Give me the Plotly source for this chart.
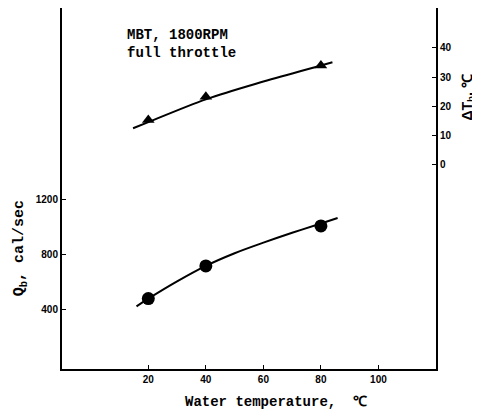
import plotly.graph_objects as go

# Measured data points
water_temp = [20, 40, 80]
qb_values = [478, 716, 1007]        # Qb, cal/sec (left axis)
dtb_values = [15.3, 23.3, 34.0]     # dTb, C (right axis)

# Fitted curves
qb_curve_x = [15.9, 20, 30, 40, 50, 60, 70, 80, 85.8]
qb_curve_y = [421, 477, 603, 716, 808, 885, 957, 1025, 1065]
dtb_curve_x = [14.7, 20, 40, 60, 80, 84]
dtb_curve_y = [12.5, 14.6, 22.4, 28.5, 34.0, 35.1]

x_ticks = [20, 40, 60, 80, 100]
left_ticks = [400, 800, 1200]
right_ticks = [0, 10, 20, 30, 40]

fig = go.Figure()
fig.add_trace(go.Scatter(x=qb_curve_x, y=qb_curve_y, mode="lines",
                         line=dict(color="black", width=2, shape="spline"),
                         showlegend=False, hoverinfo="skip"))
fig.add_trace(go.Scatter(x=water_temp, y=qb_values, mode="markers",
                         marker=dict(symbol="circle", size=13, color="black"),
                         showlegend=False))
fig.add_trace(go.Scatter(x=dtb_curve_x, y=dtb_curve_y, mode="lines",
                         line=dict(color="black", width=2, shape="spline"),
                         yaxis="y2", showlegend=False, hoverinfo="skip"))
fig.add_trace(go.Scatter(x=water_temp, y=dtb_values, mode="markers",
                         marker=dict(symbol="triangle-up", size=11, color="black"),
                         yaxis="y2", showlegend=False))

tickfont = dict(family="Liberation Sans", size=10, color="black", weight="bold")
mono = dict(family="Liberation Mono", size=14, color="black", weight="bold")

fig.update_layout(
    width=480, height=416,
    margin=dict(l=54, r=52, t=0, b=55),
    paper_bgcolor="white", plot_bgcolor="white",
    xaxis=dict(range=[-10, 120], tickvals=x_ticks, ticks="inside", ticklen=4,
               tickcolor="black", showline=True, linecolor="black", linewidth=2,
               showgrid=False, zeroline=False, tickfont=tickfont),
    yaxis=dict(range=[-35, 2594], tickvals=left_ticks, ticks="inside", ticklen=4,
               tickcolor="black", showline=True, linecolor="black", linewidth=2,
               showgrid=False, zeroline=False, tickfont=tickfont),
    yaxis2=dict(range=[-70, 53.7], tickvals=right_ticks, ticks="inside", ticklen=4,
                tickcolor="black", showline=True, linecolor="black", linewidth=2,
                showgrid=False, zeroline=False, tickfont=tickfont,
                overlaying="y", side="right"),
    annotations=[
        dict(text="MBT, 1800RPM", x=0.168, y=0.926, xref="paper", yref="paper",
             xanchor="left", yanchor="middle", showarrow=False, font=mono),
        dict(text="full throttle", x=0.168, y=0.876, xref="paper", yref="paper",
             xanchor="left", yanchor="middle", showarrow=False, font=mono),
        dict(text="Water temperature,  ℃", x=0.572, y=-0.092, xref="paper", yref="paper",
             xanchor="center", yanchor="middle", showarrow=False, font=mono),
        dict(text="Q<sub>b</sub>, cal/sec", x=-0.110, y=0.334, xref="paper", yref="paper",
             xanchor="center", yanchor="middle", showarrow=False, textangle=-90,
             font=dict(family="Liberation Mono", size=15, color="black", weight="bold")),
        dict(text="ΔT<sub>b</sub>, ℃", x=1.083, y=0.752, xref="paper", yref="paper",
             xanchor="center", yanchor="middle", showarrow=False, textangle=-90,
             font=dict(family="Liberation Sans", size=14, color="black", weight="bold")),
    ],
)

fig.write_html("out.html")
